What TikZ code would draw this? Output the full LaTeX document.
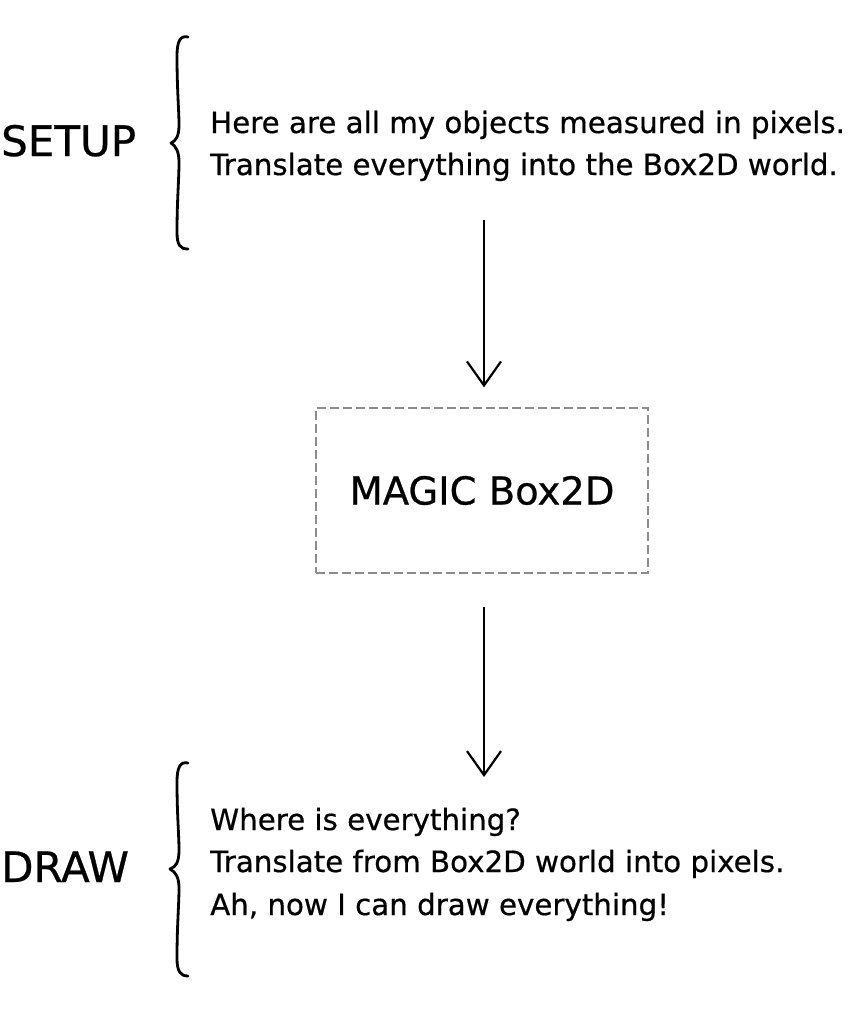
\documentclass[tikz,border=0pt]{standalone}
\usepackage{fontspec}
\setmainfont[FakeBold=0.6]{DejaVu Sans}
\usetikzlibrary{arrows.meta}
\begin{document}
\begin{tikzpicture}[x=1pt,y=-1pt,
  txt/.style={anchor=base west,inner sep=0pt,font=\fontsize{29.3}{34}\selectfont},
  big/.style={inner sep=0pt,font=\fontsize{42}{48}\selectfont},
  brace/.style={line width=2.8pt,line cap=round,line join=round},
  flow/.style={line width=2.2pt,-{Straight Barb[length=24pt,width=34pt,line width=2.2pt]}},
  magic/.style={draw=black!45,line width=1.3pt,dash pattern=on 9pt off 4pt,minimum width=332pt,minimum height=165pt,inner sep=0pt,font=\fontsize{38.5}{44}\selectfont}]
\useasboundingbox (0,0) rectangle (863,1014);

% SETUP part
\node[big,anchor=base west] (setup) at (1,156) {SETUP};
\draw[brace] (188,37) .. controls (180,35) and (177,42) .. (177,56)
  .. controls (177,90) and (179,110) .. (179,125)
  .. controls (179,136) and (176,141) .. (171,143)
  .. controls (176,146) and (179,152) .. (179,162)
  .. controls (179,180) and (177,200) .. (177,232)
  .. controls (177,245) and (180,249) .. (188,249);
\node[txt] (s1) at (210,133) {Here are all my objects measured in pixels.};
\node[txt] (s2) at (210,175) {Translate everything into the Box2D world.};

% MAGIC box
\node[magic] (box) at (482,490.5) {MAGIC Box2D};

\coordinate (a1) at (484,220);
\coordinate (a2) at (484,607);
\coordinate (e2) at (484,777);
\draw[flow] (a1) -- (box.north -| a1) [shorten >=20pt];
\draw[flow] (a2) -- (e2);

% DRAW part
\node[big,anchor=base west] (draw) at (1,882) {DRAW};
\draw[brace] (188,763) .. controls (180,761) and (177,768) .. (177,782)
  .. controls (177,815) and (179,835) .. (179,850)
  .. controls (179,862) and (176,867) .. (170,869)
  .. controls (176,872) and (179,878) .. (179,888)
  .. controls (179,905) and (177,925) .. (177,958)
  .. controls (177,971) and (180,976) .. (188,976);
\node[txt] (d1) at (210,830) {Where is everything?};
\node[txt] (d2) at (210,872) {Translate from Box2D world into pixels.};
\node[txt] (d3) at (210,915) {Ah, now I can draw everything!};
\end{tikzpicture}
\end{document}
